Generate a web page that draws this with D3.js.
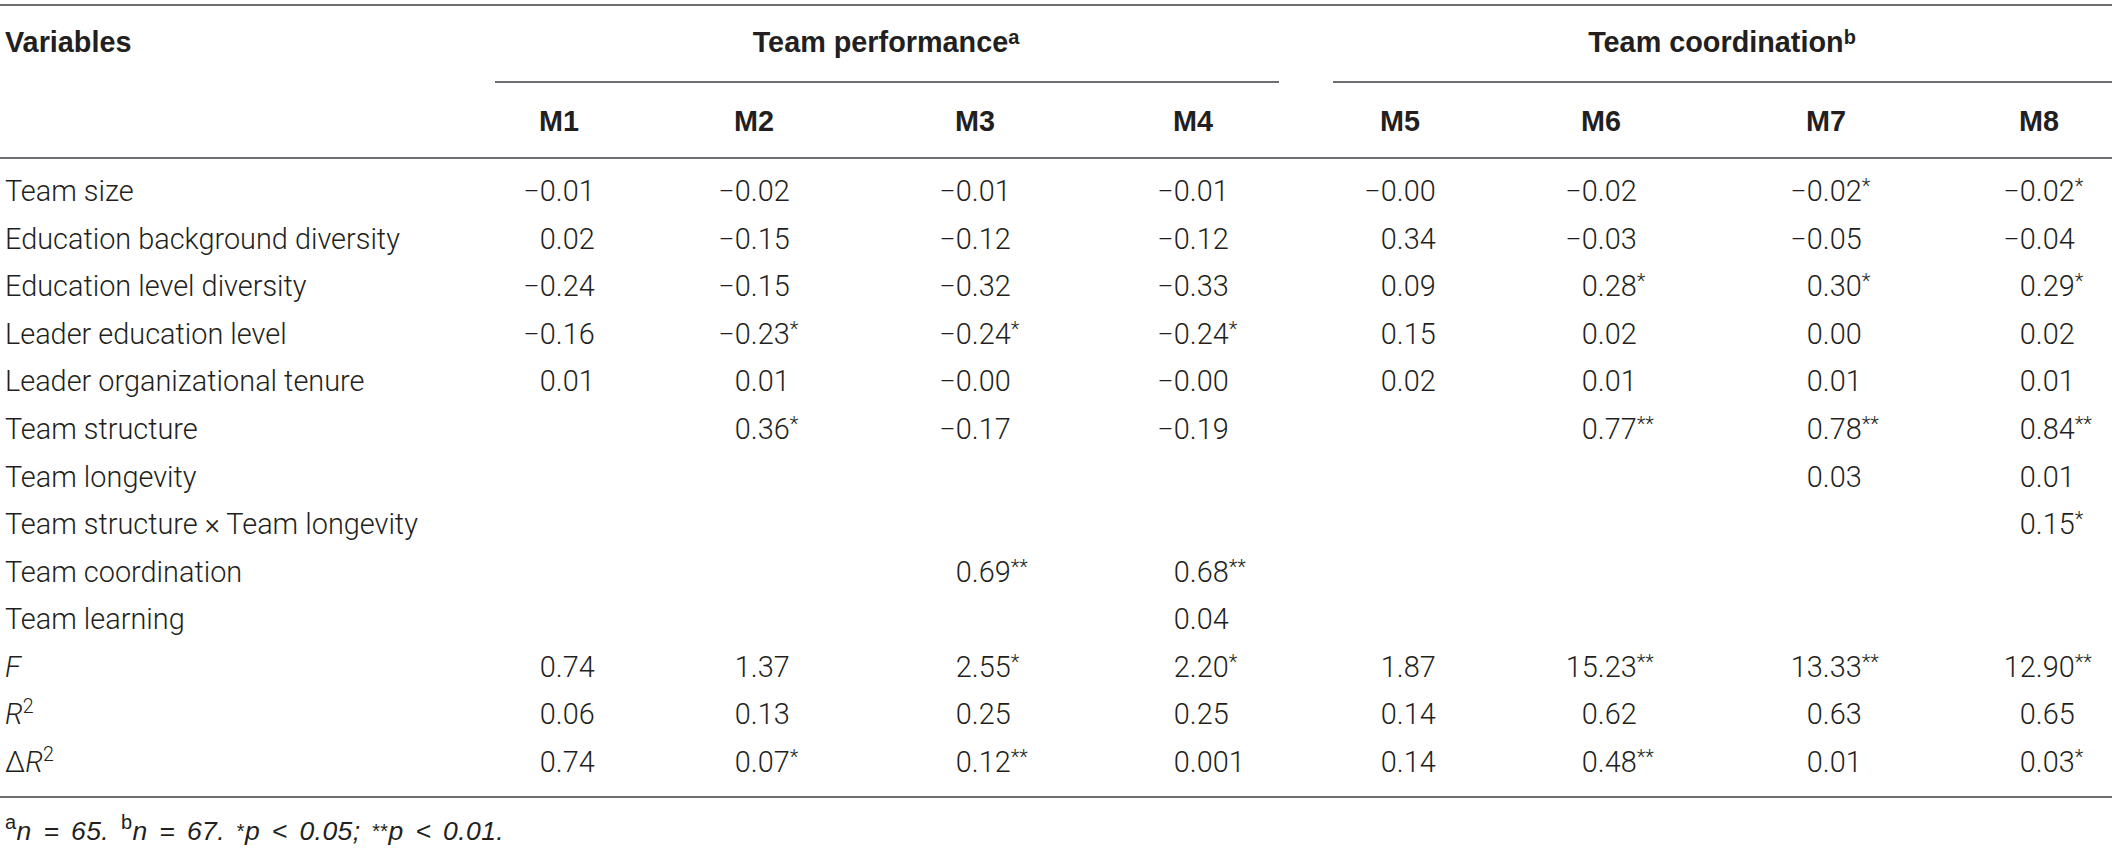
<!DOCTYPE html>
<html>
<head>
<meta charset="utf-8">
<script src="https://cdn.jsdelivr.net/npm/d3@7"></script>
<style>
  body { margin: 0; background: #fff; }
</style>
</head>
<body>
<script>
// table content
var variables = ["Team size", "Education background diversity", "Education level diversity",
  "Leader education level", "Leader organizational tenure", "Team structure", "Team longevity",
  "Team structure \u00d7 Team longevity", "Team coordination", "Team learning", "F", "R2", "\u0394R2"];
var models = ["M1", "M2", "M3", "M4", "M5", "M6", "M7", "M8"];
var groups = ["Team performance", "Team coordination"];
var groupNotes = ["a", "b"];

var m1 = ["−0.01", "0.02", "−0.24", "−0.16", "0.01", null, null, null, null, null, "0.74", "0.06", "0.74"];
var m2 = ["−0.02", "−0.15", "−0.15", "−0.23*", "0.01", "0.36*", null, null, null, null, "1.37", "0.13", "0.07*"];
var m3 = ["−0.01", "−0.12", "−0.32", "−0.24*", "−0.00", "−0.17", null, null, "0.69**", null, "2.55*", "0.25", "0.12**"];
var m4 = ["−0.01", "−0.12", "−0.33", "−0.24*", "−0.00", "−0.19", null, null, "0.68**", "0.04", "2.20*", "0.25", "0.001"];
var m5 = ["−0.00", "0.34", "0.09", "0.15", "0.02", null, null, null, null, null, "1.87", "0.14", "0.14"];
var m6 = ["−0.02", "−0.03", "0.28*", "0.02", "0.01", "0.77**", null, null, null, null, "15.23**", "0.62", "0.48**"];
var m7 = ["−0.02*", "−0.05", "0.30*", "0.00", "0.01", "0.78**", "0.03", null, null, null, "13.33**", "0.63", "0.01"];
var m8 = ["−0.02*", "−0.04", "0.29*", "0.02", "0.01", "0.84**", "0.01", "0.15*", null, null, "12.90**", "0.65", "0.03*"];
var columns = [m1, m2, m3, m4, m5, m6, m7, m8];

var W = 2118, H = 852;
var ink = "#231f20", rule = "#6d6e71";
var bodyFont = "Roboto", boldFont = "Liberation Sans";

var svg = d3.select("body").append("svg").attr("width", W).attr("height", H);
svg.append("rect").attr("width", W).attr("height", H).attr("fill", "#fff");

function textWidth(str, size, family, weight, style) {
    var t = svg.append("text").attr("font-family", family).attr("font-size", size)
        .attr("font-weight", weight || 400).attr("font-style", style || "normal").text(str);
    var w = t.node().getComputedTextLength();
    t.remove();
    return w;
}

// body size so the longest label matches the picture
var fs = 28 * 395 / textWidth("Education background diversity", 28, bodyFont, 300);
var hs = 28.8;

var y = d3.scalePoint().domain(variables).range([201, 772]);
var x = d3.scaleOrdinal().domain(models).range([559, 754, 975, 1193, 1400, 1601, 1826, 2039]);

// rules
function hline(x1, x2, yy) {
    svg.append("line").attr("x1", x1).attr("x2", x2).attr("y1", yy).attr("y2", yy)
        .attr("stroke", rule).attr("stroke-width", 1.8);
}
hline(0, 2112, 5);
hline(0, 2112, 158);
hline(0, 2112, 797);
hline(495, 1279, 82);
hline(1333, 2112, 82);

// header
svg.append("text").attr("x", 5).attr("y", 52).attr("font-family", boldFont).attr("font-size", hs)
    .attr("font-weight", 700).attr("fill", ink).text("Variables");

var groupX = [886, 1722];
groups.forEach(function (g, i) {
    var t = svg.append("text").attr("x", groupX[i]).attr("y", 52).attr("text-anchor", "middle")
        .attr("font-family", boldFont).attr("font-size", hs).attr("font-weight", 700).attr("fill", ink);
    t.append("tspan").text(g);
    t.append("tspan").attr("dy", -8).attr("font-size", 20).text(groupNotes[i]);
});

svg.selectAll(".mlab").data(models).enter().append("text")
    .attr("class", "mlab")
    .attr("x", function (d) { return x(d); }).attr("y", 131)
    .attr("text-anchor", "middle").attr("font-family", boldFont).attr("font-size", hs)
    .attr("font-weight", 700).attr("fill", ink).text(function (d) { return d; });

// row labels
var labels = svg.selectAll(".rlab").data(variables).enter().append("text")
    .attr("class", "rlab").attr("x", 5).attr("y", function (d) { return y(d); })
    .attr("font-family", bodyFont).attr("font-size", fs).attr("font-weight", 300).attr("fill", ink);
labels.each(function (d) {
    var t = d3.select(this);
    if (d === "F") {
        t.append("tspan").attr("font-style", "italic").text("F");
    } else if (d === "R2" || d === "\u0394R2") {
        if (d[0] === "\u0394") t.append("tspan").text("\u0394");
        t.append("tspan").attr("font-style", "italic").text("R");
        t.append("tspan").attr("dy", -11).attr("font-size", fs * 0.68).text("2");
    } else {
        t.text(d);
    }
});

// cells, lined up on the decimal point
var wLead = textWidth("−0", fs, bodyFont, 300);
var wFull = textWidth("−0.01", fs, bodyFont, 300);
var cells = [];
columns.forEach(function (col, i) {
    col.forEach(function (v, j) {
        if (v !== null) cells.push({ model: models[i], row: variables[j], value: v });
    });
});

svg.selectAll(".cell").data(cells).enter().append("text")
    .attr("class", "cell")
    .attr("x", function (d) {
        var num = d.value.replace(/\*+$/, "");
        var anchor = x(d.model) - wFull / 2 + wLead;
        return anchor - textWidth(num.split(".")[0], fs, bodyFont, 300);
    })
    .attr("y", function (d) { return y(d.row); })
    .attr("font-family", bodyFont).attr("font-size", fs).attr("font-weight", 300).attr("fill", ink)
    .each(function (d) {
        var t = d3.select(this);
        var num = d.value.replace(/\*+$/, "");
        var stars = d.value.slice(num.length);
        t.append("tspan").text(num);
        if (stars) t.append("tspan").attr("dy", -8).attr("font-size", fs * 0.7).text(stars);
    });

// footnote
var note = svg.append("text").attr("x", 5).attr("y", 840).attr("font-family", boldFont)
    .attr("font-size", 26.5).attr("word-spacing", 4).attr("letter-spacing", 0.4).attr("fill", ink);
var parts = [["a", -11], ["n = 65. ", 0], ["b", -11], ["n = 67. ", 0],
    ["*", -2], ["p < 0.05; ", 0], ["**", -2], ["p < 0.01.", 0]];
var shift = 0;
parts.forEach(function (p) {
    var s = note.append("tspan").text(p[0]).attr("dy", p[1] - shift);
    if (p[1] !== 0) s.attr("font-size", 20);
    else s.attr("font-style", "italic");
    shift = p[1];
});
</script>
</body>
</html>
